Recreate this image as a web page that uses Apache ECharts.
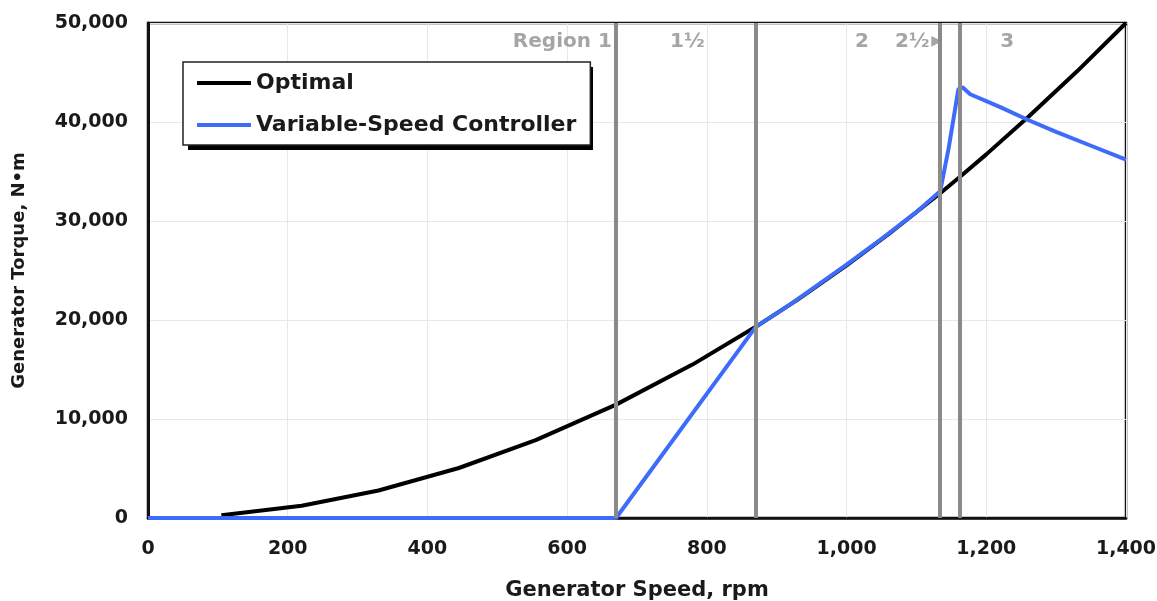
<!DOCTYPE html>
<html>
<head>
<meta charset="utf-8">
<script src="https://cdn.jsdelivr.net/npm/echarts@6/dist/echarts.min.js"></script>
<style>
  html, body { margin: 0; padding: 0; background: #fff; }
  #main { width: 1157px; height: 601px; }
</style>
</head>
<body>
<div id="main"></div>
<script>
// generator speed (rpm) / torque (N·m)
const optimalSpeed  = [105, 220, 330, 445, 555, 670, 780, 870, 930, 1000, 1060, 1134, 1162, 1200, 1260, 1330, 1400];
const optimalTorque = [280, 1230, 2780, 5050, 7860, 11450, 15520, 19310, 22060, 25510, 28660, 32800, 34450, 36730, 40500, 45120, 50000];

const vscSpeed  = [0, 670, 870, 920, 1000, 1050, 1100, 1134, 1146, 1160, 1166, 1177, 1220, 1260, 1300, 1350, 1400];
const vscTorque = [0, 0, 19300, 21600, 25600, 28200, 30900, 33000, 37300, 43300, 43500, 42800, 41500, 40200, 39000, 37600, 36200];

// region boundaries and labels
const regionBounds = [670, 870, 1134, 1162];
const regionLabels = ['Region 1', '1½', '2', '2½', '▶', '3'];
const regionLabelSpeed = [664, 772, 1022, 1094, 1129, 1230];
const regionLabelAlign = ['right', 'center', 'center', 'center', 'center', 'center'];
const regionLabelTorque = 48100;

const xTicks = { min: 0, max: 1400, interval: 200 };
const yTicks = { min: 0, max: 50000, interval: 10000 };

const font = 'DejaVu Sans';

function commas (v) {
  return String(v).replace(/\B(?=(\d{3})+(?!\d))/g, ',');
}

function pairs (xs, ys) {
  return xs.map((x, i) => [x, ys[i]]);
}

const chart = echarts.init(document.getElementById('main'));

const option = {
  animation: false,
  grid: {
    left: 148,
    right: 31,
    top: 23,
    bottom: 83,
    outerBoundsMode: 'none',
    containLabel: false,
    show: true,
    borderColor: '#111',
    borderWidth: 2.5,
    backgroundColor: 'transparent'
  },
  // hard drop shadow behind the legend box
  graphic: [{
    type: 'rect',
    z: 90,
    silent: true,
    shape: { x: 188, y: 67, width: 405, height: 83 },
    style: { fill: '#000' }
  }],
  legend: {
    data: ['Optimal', 'Variable-Speed Controller'],
    orient: 'vertical',
    left: 183,
    top: 62,
    z: 100,
    padding: [9, 14, 8, 14],
    itemWidth: 54,
    itemHeight: 4,
    itemGap: 18,
    icon: 'rect',
    backgroundColor: '#fff',
    borderColor: '#222',
    borderWidth: 1.5,
    selectedMode: false,
    textStyle: {
      fontFamily: font,
      fontWeight: 'bold',
      fontSize: 22,
      lineHeight: 24,
      color: '#1a1a1a'
    }
  },
  xAxis: {
    type: 'value',
    min: xTicks.min,
    max: xTicks.max,
    interval: xTicks.interval,
    name: 'Generator Speed, rpm',
    nameLocation: 'middle',
    nameGap: 62,
    nameTextStyle: { fontFamily: font, fontWeight: 'bold', fontSize: 21, color: '#1a1a1a' },
    axisLine: { lineStyle: { color: '#111', width: 2.5 } },
    axisTick: { show: false },
    axisLabel: {
      margin: 22,
      fontFamily: font,
      fontWeight: 'bold',
      fontSize: 19,
      color: '#1a1a1a',
      formatter: commas
    },
    splitLine: { show: true, lineStyle: { color: '#e8e8e8', width: 1 } }
  },
  yAxis: {
    type: 'value',
    min: yTicks.min,
    max: yTicks.max,
    interval: yTicks.interval,
    name: 'Generator Torque, N•m',
    nameLocation: 'middle',
    nameGap: 120,
    nameTextStyle: { fontFamily: font, fontWeight: 'bold', fontSize: 18, color: '#1a1a1a' },
    axisLine: { show: true, lineStyle: { color: '#111', width: 3 } },
    axisTick: { show: false },
    axisLabel: {
      margin: 20,
      fontFamily: font,
      fontWeight: 'bold',
      fontSize: 19,
      color: '#1a1a1a',
      formatter: commas
    },
    splitLine: { show: true, lineStyle: { color: '#e8e8e8', width: 1 } }
  },
  series: [
    {
      name: 'regions',
      type: 'scatter',
      symbolSize: 0,
      silent: true,
      z: 1,
      data: regionLabels.map((t, i) => ({
        value: [regionLabelSpeed[i], regionLabelTorque],
        label: {
          show: true,
          position: 'inside',
          align: regionLabelAlign[i],
          verticalAlign: 'middle',
          formatter: t,
          fontFamily: font,
          fontWeight: 'bold',
          fontSize: t === '▶' ? 14 : 20,
          color: '#8f8f8f'
        }
      })),
      markLine: {
        silent: true,
        symbol: 'none',
        label: { show: false },
        lineStyle: { color: '#8a8a8a', width: 4, type: 'solid' },
        data: regionBounds.map(x => ({ xAxis: x }))
      }
    },
    {
      name: 'Optimal',
      type: 'line',
      z: 3,
      showSymbol: false,
      symbol: 'none',
      color: '#000',
      lineStyle: { color: '#000', width: 4 },
      data: pairs(optimalSpeed, optimalTorque)
    },
    {
      name: 'Variable-Speed Controller',
      type: 'line',
      z: 4,
      showSymbol: false,
      symbol: 'none',
      color: '#3d6cfa',
      lineStyle: { color: '#3d6cfa', width: 4 },
      data: pairs(vscSpeed, vscTorque)
    }
  ]
};

chart.setOption(option);
</script>
</body>
</html>
